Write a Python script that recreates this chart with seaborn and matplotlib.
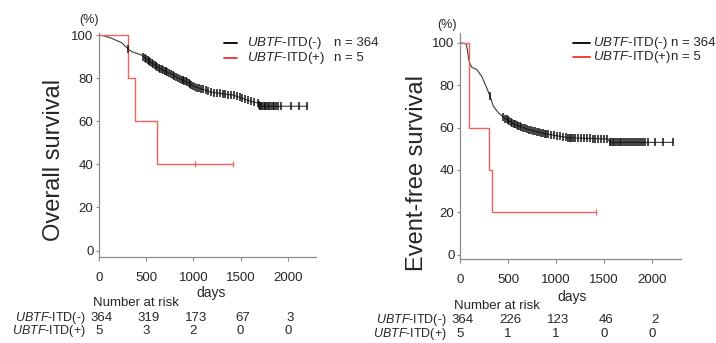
import numpy as np
import pandas as pd
import matplotlib
matplotlib.use("Agg")
import matplotlib.pyplot as plt
import matplotlib.transforms as mtransforms
import seaborn as sns

# ---------- data ----------
# Overall survival, UBTF-ITD(-): curve knots (days, %)
os_neg_t = [0, 60, 130, 240, 310, 350, 450, 520, 610, 660, 790, 840, 930, 1015,
            1070, 1180, 1250, 1370, 1420, 1530, 1630, 1690, 1705, 2212]
os_neg_s = [100, 99.6, 98.6, 96.5, 93.5, 92.3, 90.8, 88.2, 85.5, 84.2, 81.5, 80,
            78.3, 76, 75.3, 73.6, 73.2, 72.4, 72.2, 70.5, 69, 68.5, 67, 67]
os_neg_cens = [310, 470, 485, 500, 515, 530, 545, 560, 575, 590, 605, 620, 635, 650,
               665, 680, 695, 710, 725, 740, 760, 780, 800, 820, 840, 860, 875, 890,
               905, 920, 935, 950, 965, 980, 1000, 1020, 1040, 1060, 1080, 1100, 1130,
               1160, 1190, 1220, 1250, 1280, 1310, 1340, 1370, 1400, 1430, 1460, 1490,
               1520, 1550, 1580, 1610, 1640, 1690, 1700, 1710, 1720, 1730, 1745, 1760,
               1775, 1790, 1800, 1820, 1840, 1860, 1880, 1900, 1930, 2040, 2115, 2205]
# Overall survival, UBTF-ITD(+)
os_pos_t = [0, 310, 380, 610, 1420]
os_pos_s = [100, 80, 60, 40, 40]
os_pos_cens = [1015, 1420]

# Event-free survival, UBTF-ITD(-)
efs_neg_t = [0, 65, 75, 94, 121, 173, 225, 277, 312, 347, 399, 468, 572, 710, 884,
             1126, 1540, 1560, 2215]
efs_neg_s = [100, 99.5, 97, 91.4, 88.5, 87.4, 84.3, 78.8, 74.9, 70.1, 67, 64.3, 61.5,
             59.1, 57.1, 55.2, 54.6, 53, 53]
efs_neg_cens = [312, 450, 470, 485, 500, 515, 530, 545, 560, 575, 590, 605, 620, 640, 660,
                680, 700, 720, 740, 760, 780, 800, 820, 840, 860, 880, 900, 920, 950,
                980, 1010, 1040, 1070, 1100, 1120, 1140, 1160, 1180, 1200, 1230, 1260,
                1290, 1320, 1350, 1380, 1410, 1440, 1470, 1500, 1530, 1560, 1575, 1590,
                1605, 1620, 1640, 1660, 1680, 1700, 1720, 1740, 1760, 1780, 1800, 1820,
                1840, 1860, 1880, 1900, 1930, 1955, 2027, 2113, 2215]
# Event-free survival, UBTF-ITD(+)
efs_pos_t = [0, 94, 305, 336, 1414]
efs_pos_s = [100, 60, 40, 20, 20]
efs_pos_cens = [1414]

# number at risk table
risk_times = [0, 500, 1000, 1500, 2000]
os_risk_neg = [364, 319, 173, 67, 3]
os_risk_pos = [5, 3, 2, 0, 0]
efs_risk_neg = [364, 226, 123, 46, 2]
efs_risk_pos = [5, 1, 1, 0, 0]

n_neg, n_pos = 364, 5
x_ticks = [0, 500, 1000, 1500, 2000]
y_ticks = [0, 20, 40, 60, 80, 100]

# ---------- style ----------
sns.set_style("ticks")
plt.rcParams['font.family'] = ['Liberation Sans', 'DejaVu Sans']
plt.rcParams['mathtext.fontset'] = 'custom'
plt.rcParams['mathtext.rm'] = 'Liberation Sans'
plt.rcParams['mathtext.it'] = 'Liberation Sans:italic'

BLACK = '#3a3a3a'
RED = '#f0645c'
SPINE = '#8a8a8a'
LAB_NEG = r'$\mathit{UBTF}$-ITD(-)'
LAB_POS = r'$\mathit{UBTF}$-ITD(+)'

W, H = 716, 343
fig = plt.figure(figsize=(W / 100, H / 100), dpi=100)


def px_axes(x0, y_top, x1, y_bot):
    return fig.add_axes([x0 / W, 1 - y_bot / H, (x1 - x0) / W, (y_bot - y_top) / H])


def draw_panel(ax, neg_t, neg_s, neg_c, pos_t, pos_s, pos_c, ylim):
    df_neg = pd.DataFrame({'t': neg_t, 's': neg_s})
    df_pos = pd.DataFrame({'t': pos_t, 's': pos_s})
    sns.lineplot(data=df_neg, x='t', y='s', ax=ax, color=BLACK, lw=0.8,
                 estimator=None, sort=False)
    sns.lineplot(data=df_pos, x='t', y='s', ax=ax, color=RED, lw=1.0,
                 estimator=None, sort=False, drawstyle='steps-post')
    # censor marks
    cy_neg = np.interp(neg_c, neg_t, neg_s)
    idx = np.searchsorted(pos_t, pos_c, side='right') - 1
    cy_pos = np.array(pos_s)[idx]
    ax.plot(neg_c, cy_neg, ls='', marker='|', ms=5.5, mew=1.1, color='#111111')
    ax.plot(pos_c, cy_pos, ls='', marker='|', ms=5, mew=0.9, color=RED)

    ax.set_xlim(0, 2300)
    ax.set_ylim(*ylim)
    ax.set_xticks(x_ticks)
    ax.set_yticks(y_ticks)
    ax.set_xlabel('')
    ax.set_ylabel('')
    sns.despine(ax=ax)
    for sp in ['left', 'bottom']:
        ax.spines[sp].set_color(SPINE)
        ax.spines[sp].set_linewidth(0.9)
    ax.tick_params(axis='x', length=3, width=0.8, color=SPINE, pad=8, labelsize=9.5)
    ax.tick_params(axis='y', length=2.5, width=0.8, color=SPINE, pad=1.5, labelsize=9.5)


def legend(ax, x_line, x_text, x_n, y1, y2):
    # positions in axes fraction
    for y, c, lab, n in [(y1, 'black', LAB_NEG, n_neg), (y2, '#ee3030', LAB_POS, n_pos)]:
        ax.plot(x_line, [y, y], color=c, lw=1.3, transform=ax.transAxes, clip_on=False)
        ax.text(x_text, y, lab, transform=ax.transAxes, fontsize=9.5, va='center', ha='left')
        ax.text(x_n, y, f'n = {n}', transform=ax.transAxes, fontsize=9.5, va='center',
                ha='left', clip_on=False)


def risk_table(ax, neg, pos, x_lab, y_title, y1, y2):
    tr = mtransforms.blended_transform_factory(ax.transData, fig.transFigure)
    fig.text(x_lab[0] / W, 1 - y_title / H, 'Number at risk', fontsize=9.5, va='center', ha='left')
    fig.text(x_lab[1] / W, 1 - y1 / H, LAB_NEG, fontsize=9, va='center', ha='right')
    fig.text(x_lab[1] / W, 1 - y2 / H, LAB_POS, fontsize=9, va='center', ha='right')
    for t, a, b in zip(risk_times, neg, pos):
        ax.text(t + 25, 1 - y1 / H, str(a), transform=tr, fontsize=9.5, va='center', ha='center')
        ax.text(t, 1 - y2 / H, str(b), transform=tr, fontsize=9.5, va='center', ha='center')


# ---------- left panel: overall survival ----------
ax1 = px_axes(99, 33, 316, 257)
draw_panel(ax1, os_neg_t, os_neg_s, os_neg_cens, os_pos_t, os_pos_s, os_pos_cens, (-3, 101))
legend(ax1, [0.576, 0.636], 0.684, 1.083, 0.955, 0.888)
fig.text(54 / W, 1 - 160 / H, 'Overall survival', rotation=90, fontsize=17, va='center', ha='center')
fig.text(89 / W, 1 - 20 / H, '(%)', fontsize=9, va='center', ha='center')
fig.text(211 / W, 1 - 293 / H, 'days', fontsize=10, va='center', ha='center')
risk_table(ax1, os_risk_neg, os_risk_pos, (93, 86), 303, 318, 331)

# ---------- right panel: event-free survival ----------
ax2 = px_axes(460, 33, 681, 259)
draw_panel(ax2, efs_neg_t, efs_neg_s, efs_neg_cens, efs_pos_t, efs_pos_s, efs_pos_cens, (-2, 104.6))
legend(ax2, [0.511, 0.588], 0.600, 0.955, 0.957, 0.892)
fig.text(417 / W, 1 - 173 / H, 'Event-free survival', rotation=90, fontsize=17, va='center', ha='center')
fig.text(447 / W, 1 - 25 / H, '(%)', fontsize=9, va='center', ha='center')
fig.text(572 / W, 1 - 297 / H, 'days', fontsize=10, va='center', ha='center')
risk_table(ax2, efs_risk_neg, efs_risk_pos, (454, 447), 306, 320, 334)

fig.savefig('out.png', dpi=100)
